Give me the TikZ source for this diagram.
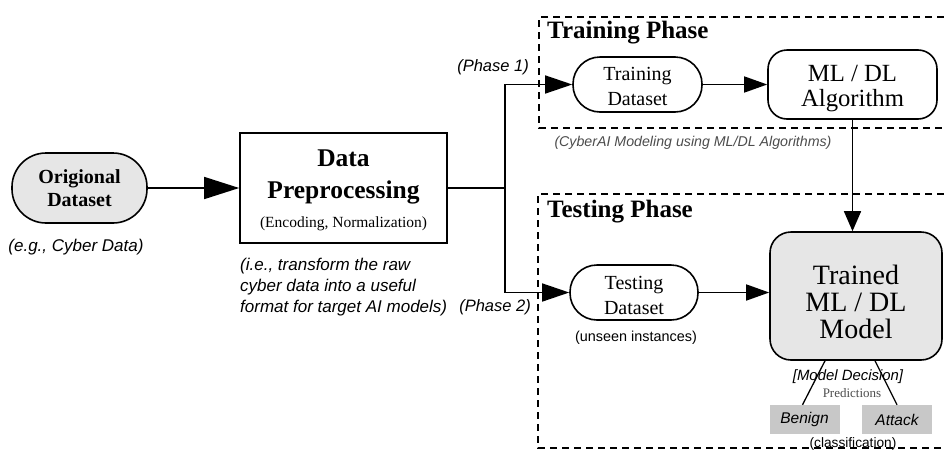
\documentclass[tikz,border=0pt]{standalone}
\usepackage{fontspec}
\setmainfont{Liberation Serif}
\newfontfamily\arialf{Liberation Sans}
\usetikzlibrary{arrows.meta}

\definecolor{softgray}{HTML}{E6E6E6}
\definecolor{classgray}{HTML}{C8C8C8}

\tikzset{
  flow/.style={line width=1.5pt},
  bigarrow/.style={flow, -{Triangle[length=35pt,width=22pt]}},
  midarrow/.style={flow, -{Triangle[length=27pt,width=18pt]}},
  smallarrow/.style={flow, -{Triangle[length=23pt,width=16pt]}},
  stadium/.style={draw, line width=1.6pt, inner sep=0pt, align=center},
  roundbox/.style={draw, line width=1.6pt, inner sep=0pt, align=center, rounded corners=19pt},
  boxtext/.style={inner sep=0pt, align=center},
  phasebox/.style={line width=1.3pt, dash pattern=on 7pt off 5pt},
  phasetitle/.style={anchor=west, inner sep=0pt, font=\fontsize{25}{28}\selectfont\bfseries},
  note/.style={inner sep=0pt, font=\arialf\itshape\fontsize{17}{21}\selectfont},
  classbox/.style={fill=classgray, minimum width=70pt, minimum height=29pt, inner sep=0pt,
    font=\arialf\itshape\fontsize{15.5}{18}\selectfont}
}

\begin{document}
\begin{tikzpicture}[x=1pt,y=-1pt]
\useasboundingbox (0,0) rectangle (944,453);

% phase frames, open towards the right border
\draw[phasebox] (944,17) -- (539,17) -- (539,128) -- (944,128);
\draw[phasebox] (944,194) -- (538,194) -- (538,448) -- (944,448);
\node[phasetitle] (trainhdr) at (547,33) {Training Phase};
\node[phasetitle] (testhdr) at (547,212) {Testing Phase};

% raw data
\node[stadium, fill=softgray, minimum width=135pt, minimum height=70pt, rounded corners=34pt,
      font=\fontsize{20}{23}\selectfont\bfseries] (orig) at (79.5,188) {Origional\\Dataset};
\node[note] (orignote) at (76,247) {(e.g., Cyber Data)};

% preprocessing
\node[draw, line width=1.6pt, minimum width=207pt, minimum height=110pt, inner sep=0pt] (prep) at (343.5,188) {};
\node[boxtext, font=\fontsize{25.5}{32}\selectfont\bfseries] (preptitle) at (343.5,177) {Data\\Preprocessing};
\node[inner sep=0pt, font=\fontsize{15.5}{18}\selectfont] (prepsub) at (343.5,224) {(Encoding, Normalization)};
\node[note, anchor=north west, align=left] (prepnote) at (240,258)
  {(i.e., transform the raw\\cyber data into a useful\\format for target AI models)};

\draw[bigarrow] (orig) -- (prep);

% datasets
\node[stadium, minimum width=129pt, minimum height=55pt, rounded corners=27pt] (trainds) at (637.5,84.5) {};
\node[boxtext, font=\fontsize{20}{25}\selectfont] (traintext) at (637.5,86.5) {Training\\Dataset};
\node[stadium, minimum width=128pt, minimum height=55pt, rounded corners=27pt] (testds) at (634,292.5) {};
\node[boxtext, font=\fontsize{20}{25}\selectfont] (testtext) at (634,295) {Testing\\Dataset};
\node[inner sep=0pt, font=\arialf\fontsize{14.4}{17}\selectfont] (unseen) at (636,338) {(unseen instances)};

% split into the two phases
\coordinate (split) at (505,188);
\draw[flow] (prep.east) -- (split);
\draw[midarrow] (split) |- (trainds.west);
\draw[midarrow] (split) |- (testds.west);
\node[note, font=\arialf\itshape\fontsize{16.5}{20}\selectfont, anchor=east] (ph1) at (529,67) {(Phase 1)};
\node[note, font=\arialf\itshape\fontsize{16.5}{20}\selectfont, anchor=east] (ph2) at (531,307) {(Phase 2)};

% learning
\node[roundbox, minimum width=169pt, minimum height=69pt] (algo) at (852.5,84.5) {};
\node[boxtext, font=\fontsize{24.7}{25}\selectfont] (algotext) at (852.5,89) {ML / DL\\Algorithm};
\draw[smallarrow] (trainds) -- (algo);
\node[inner sep=0pt, text=black!70, font=\arialf\itshape\fontsize{14.2}{17}\selectfont] (modelnote) at (693,143)
  {(CyberAI Modeling using ML/DL Algorithms)};

% trained model
\node[roundbox, fill=softgray, rounded corners=21pt, minimum width=172pt, minimum height=128pt] (model) at (856,296) {};
\node[boxtext, font=\fontsize{28}{27}\selectfont] (modeltext) at (856,302) {Trained\\ML / DL\\Model};
\draw[flow, -{Triangle[length=20pt,width=17pt]}] (algo.south) -- (algo.south |- model.north);
\draw[smallarrow] (testds.east) -- (testds.east -| model.west);

% decisions
\node[classbox] (benign) at (804.5,419.5) {Benign};
\node[classbox] (attack) at (897,419.5) {Attack};
\draw[line width=1.3pt] ([xshift=-31pt]model.south) -- ([xshift=-2pt]benign.north);
\draw[line width=1.3pt] ([xshift=19pt]model.south) -- (attack.north);
\node[inner sep=0pt, font=\arialf\itshape\fontsize{14.9}{17}\selectfont] (decision) at (848,377) {[Model Decision]};
\node[inner sep=0pt, text=black!70, font=\fontsize{13}{15}\selectfont] (preds) at (852,393) {Predictions};
\node[inner sep=0pt, font=\arialf\fontsize{13.7}{16}\selectfont] (classif) at (853,444) {(classification)};
\end{tikzpicture}
\end{document}
